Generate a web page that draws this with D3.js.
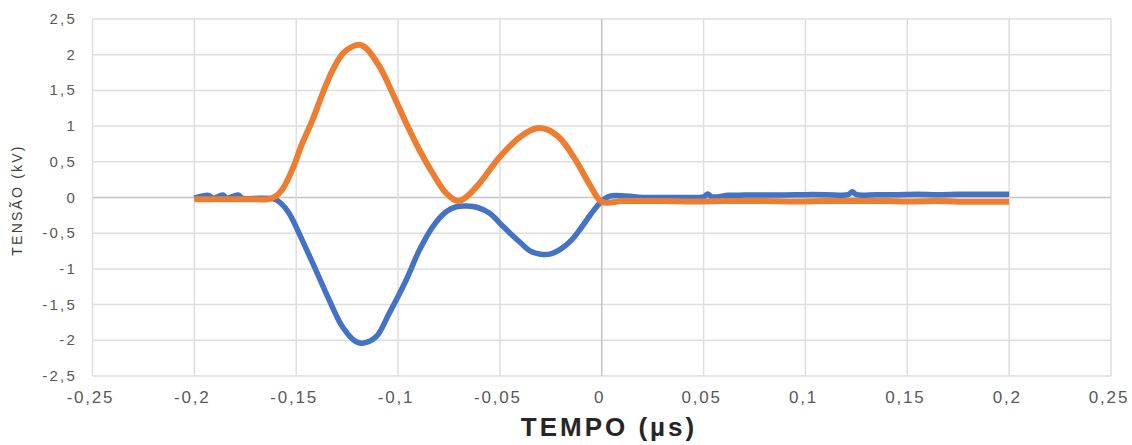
<!DOCTYPE html>
<html>
<head>
<meta charset="utf-8">
<script src="https://cdn.jsdelivr.net/npm/d3@7"></script>
<style>
  html, body { margin: 0; padding: 0; background: #fff; }
  svg { display: block; }
  .tick-label { font-family: "Liberation Sans", Arial, sans-serif; fill: #595959; }
</style>
</head>
<body>
<svg id="chart" width="1132" height="445"></svg>
<script>
// Axis ticks
const xTicks = [-0.25, -0.2, -0.15, -0.1, -0.05, 0, 0.05, 0.1, 0.15, 0.2, 0.25];
const yTicks = [-2.5, -2, -1.5, -1, -0.5, 0, 0.5, 1, 1.5, 2, 2.5];

// Channel 1 (blue): time in µs, voltage in kV
const blueTime = [
  -0.200, -0.193, -0.191, -0.186, -0.184, -0.1785, -0.1765, -0.168, -0.161,
  -0.1575, -0.1535, -0.147, -0.1404, -0.1338, -0.1273, -0.1207, -0.1174, -0.1108,
  -0.1043, -0.096, -0.0895, -0.083, -0.0764, -0.0714, -0.066, -0.061,
  -0.055, -0.050, -0.045, -0.040, -0.035, -0.030, -0.025, -0.020, -0.015,
  -0.010, -0.005, 0.000, 0.004, 0.012, 0.020, 0.030, 0.040, 0.050, 0.052,
  0.054, 0.062, 0.066, 0.070, 0.080, 0.090, 0.100, 0.110, 0.121, 0.123,
  0.125, 0.135, 0.145, 0.155, 0.165, 0.175, 0.185, 0.195, 0.200
];
const blueValues = [
  -0.01, 0.03, -0.01, 0.035, -0.01, 0.035, -0.01, -0.01, -0.02,
  -0.08, -0.22, -0.60, -1.015, -1.435, -1.81, -2.02, -2.04, -1.95,
  -1.62, -1.155, -0.735, -0.41, -0.20, -0.13, -0.12, -0.14,
  -0.22, -0.36, -0.50, -0.63, -0.75, -0.795, -0.79, -0.72, -0.60,
  -0.42, -0.22, -0.05, 0.02, 0.02, 0.00, 0.00, 0.00, 0.01, 0.05,
  0.01, 0.03, 0.03, 0.035, 0.035, 0.035, 0.04, 0.04, 0.04, 0.08,
  0.04, 0.04, 0.04, 0.045, 0.04, 0.045, 0.045, 0.045, 0.045
];

// Channel 2 (orange): time in µs, voltage in kV
const orangeTime = [
  -0.200, -0.180, -0.170, -0.164, -0.1605, -0.157, -0.152, -0.147, -0.142, -0.137,
  -0.132, -0.127, -0.122, -0.119, -0.116, -0.109, -0.1027, -0.096, -0.0895,
  -0.083, -0.0764, -0.0706, -0.066, -0.060, -0.050, -0.040, -0.032, -0.027,
  -0.0205, -0.0123, -0.0058, 0.000, 0.010, 0.020, 0.030, 0.045, 0.060,
  0.070, 0.080, 0.095, 0.110, 0.125, 0.140, 0.150, 0.165, 0.180, 0.190, 0.200
];
const orangeValues = [
  -0.025, -0.025, -0.025, -0.025, 0.01, 0.105, 0.385, 0.76, 1.085, 1.46,
  1.79, 2.02, 2.12, 2.14, 2.10, 1.83, 1.46, 1.04, 0.665,
  0.34, 0.06, -0.05, 0.02, 0.20, 0.57, 0.85, 0.97, 0.955,
  0.83, 0.50, 0.175, -0.06, -0.05, -0.05, -0.05, -0.055, -0.05,
  -0.05, -0.05, -0.055, -0.05, -0.05, -0.05, -0.055, -0.05, -0.06, -0.06, -0.06
];

const svg = d3.select("#chart");
const W = 1132, H = 445;
svg.append("rect").attr("width", W).attr("height", H).attr("fill", "#fff");

const x = d3.scaleLinear().domain([-0.25, 0.25]).range([92.5, 1111]);
const y = d3.scaleLinear().domain([-2.5, 2.5]).range([376, 19]);

const fmt = v => {
  if (Math.abs(v) < 1e-9) return "0";
  return String(+v.toFixed(2)).replace(".", ",");
};

// Gridlines
const grid = svg.append("g");
grid.selectAll("line.h").data(yTicks).join("line")
  .attr("x1", x(-0.25)).attr("x2", x(0.25))
  .attr("y1", d => y(d)).attr("y2", d => y(d))
  .attr("stroke", d => d === 0 ? "#c4c4c4" : "#dedede")
  .attr("stroke-width", 1.5);
grid.selectAll("line.v").data(xTicks).join("line")
  .attr("y1", y(-2.5)).attr("y2", y(2.5))
  .attr("x1", d => x(d)).attr("x2", d => x(d))
  .attr("stroke", d => d === 0 ? "#c4c4c4" : "#dedede")
  .attr("stroke-width", 1.5);

// Tick labels
svg.append("g").selectAll("text").data(yTicks).join("text")
  .attr("class", "tick-label")
  .attr("x", 77)
  .attr("y", d => y(d) + 5)
  .attr("text-anchor", "end")
  .attr("font-size", 15)
  .attr("letter-spacing", 2.2)
  .text(d => fmt(d));

svg.append("g").selectAll("text").data(xTicks).join("text")
  .attr("class", "tick-label")
  .attr("x", d => x(d) - 2)
  .attr("y", 403)
  .attr("text-anchor", "middle")
  .attr("font-size", 17)
  .attr("letter-spacing", 1.8)
  .text(d => fmt(d));

// Axis titles
svg.append("text")
  .attr("x", 609).attr("y", 436)
  .attr("text-anchor", "middle")
  .attr("font-family", "'Liberation Sans', Arial, sans-serif")
  .attr("font-weight", "bold")
  .attr("font-size", 26)
  .attr("letter-spacing", 3)
  .attr("fill", "#262626")
  .text("TEMPO (µs)");

svg.append("text")
  .attr("transform", "translate(22,200) rotate(-90)")
  .attr("text-anchor", "middle")
  .attr("font-family", "'Liberation Sans', Arial, sans-serif")
  .attr("font-size", 14)
  .attr("letter-spacing", 2.2)
  .attr("fill", "#404040")
  .text("TENSÃO (kV)");

// Series
const line = d3.line()
  .x(d => x(d[0]))
  .y(d => y(d[1]))
  .curve(d3.curveCatmullRom.alpha(0.5));

const blueData = d3.zip(blueTime, blueValues);
const orangeData = d3.zip(orangeTime, orangeValues);

svg.append("path").datum(blueData)
  .attr("d", line)
  .attr("fill", "none")
  .attr("stroke", "#4472C4")
  .attr("stroke-width", 5.5)
  .attr("stroke-linejoin", "round");

svg.append("path").datum(orangeData)
  .attr("d", line)
  .attr("fill", "none")
  .attr("stroke", "#ED7D31")
  .attr("stroke-width", 6)
  .attr("stroke-linejoin", "round");
</script>
</body>
</html>
